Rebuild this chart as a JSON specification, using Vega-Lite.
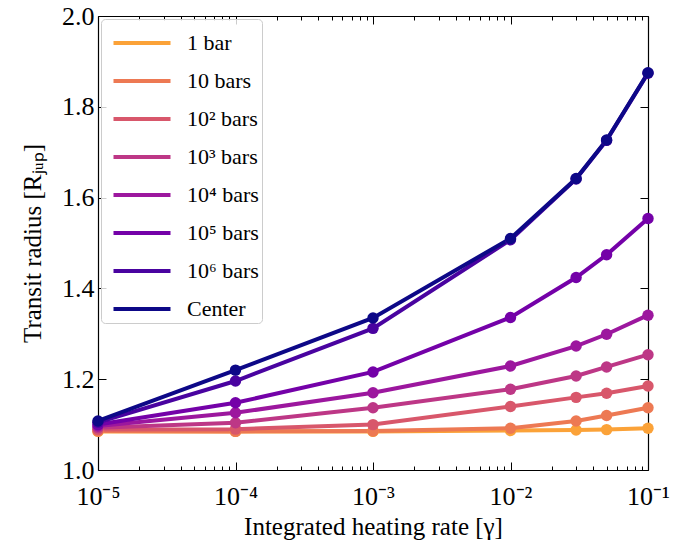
{
  "$schema": "https://vega.github.io/schema/vega-lite/v6.json",
  "width": 550,
  "height": 454,
  "autosize": {"type": "none"},
  "padding": {"left": 98, "top": 16, "right": 41, "bottom": 72},
  "config": {
    "view": {"stroke": null},
    "font": "Liberation Serif",
    "axis": {
      "domainColor": "black",
      "domainWidth": 1.2,
      "tickColor": "black",
      "tickWidth": 1,
      "grid": false,
      "labelFlush": false,
      "labelColor": "black",
      "titleColor": "black",
      "labelFont": "Liberation Serif",
      "titleFont": "Liberation Serif",
      "labelFontSize": 26,
      "titleFontSize": 25,
      "titleFontWeight": "normal"
    }
  },
  "datasets": {
    "d": [
      {"series": "1 bar", "x": 0.00001, "y": 1.085},
      {"series": "1 bar", "x": 0.0001, "y": 1.085},
      {"series": "1 bar", "x": 0.001, "y": 1.085},
      {"series": "1 bar", "x": 0.01, "y": 1.087},
      {"series": "1 bar", "x": 0.03, "y": 1.088},
      {"series": "1 bar", "x": 0.05, "y": 1.089},
      {"series": "1 bar", "x": 0.1, "y": 1.092},
      {"series": "10 bars", "x": 0.00001, "y": 1.086},
      {"series": "10 bars", "x": 0.0001, "y": 1.085},
      {"series": "10 bars", "x": 0.001, "y": 1.086},
      {"series": "10 bars", "x": 0.01, "y": 1.092},
      {"series": "10 bars", "x": 0.03, "y": 1.108},
      {"series": "10 bars", "x": 0.05, "y": 1.12},
      {"series": "10 bars", "x": 0.1, "y": 1.137},
      {"series": "10² bars", "x": 0.00001, "y": 1.089},
      {"series": "10² bars", "x": 0.0001, "y": 1.09},
      {"series": "10² bars", "x": 0.001, "y": 1.1},
      {"series": "10² bars", "x": 0.01, "y": 1.14},
      {"series": "10² bars", "x": 0.03, "y": 1.16},
      {"series": "10² bars", "x": 0.05, "y": 1.169},
      {"series": "10² bars", "x": 0.1, "y": 1.185},
      {"series": "10³ bars", "x": 0.00001, "y": 1.093},
      {"series": "10³ bars", "x": 0.0001, "y": 1.104},
      {"series": "10³ bars", "x": 0.001, "y": 1.137},
      {"series": "10³ bars", "x": 0.01, "y": 1.178},
      {"series": "10³ bars", "x": 0.03, "y": 1.207},
      {"series": "10³ bars", "x": 0.05, "y": 1.227},
      {"series": "10³ bars", "x": 0.1, "y": 1.254},
      {"series": "10⁴ bars", "x": 0.00001, "y": 1.097},
      {"series": "10⁴ bars", "x": 0.0001, "y": 1.126},
      {"series": "10⁴ bars", "x": 0.001, "y": 1.17},
      {"series": "10⁴ bars", "x": 0.01, "y": 1.229},
      {"series": "10⁴ bars", "x": 0.03, "y": 1.273},
      {"series": "10⁴ bars", "x": 0.05, "y": 1.299},
      {"series": "10⁴ bars", "x": 0.1, "y": 1.341},
      {"series": "10⁵ bars", "x": 0.00001, "y": 1.1},
      {"series": "10⁵ bars", "x": 0.0001, "y": 1.148},
      {"series": "10⁵ bars", "x": 0.001, "y": 1.216},
      {"series": "10⁵ bars", "x": 0.01, "y": 1.336},
      {"series": "10⁵ bars", "x": 0.03, "y": 1.424},
      {"series": "10⁵ bars", "x": 0.05, "y": 1.474},
      {"series": "10⁵ bars", "x": 0.1, "y": 1.554},
      {"series": "10⁶ bars", "x": 0.00001, "y": 1.105},
      {"series": "10⁶ bars", "x": 0.0001, "y": 1.196},
      {"series": "10⁶ bars", "x": 0.001, "y": 1.312},
      {"series": "10⁶ bars", "x": 0.01, "y": 1.507},
      {"series": "10⁶ bars", "x": 0.03, "y": 1.641},
      {"series": "10⁶ bars", "x": 0.05, "y": 1.726},
      {"series": "10⁶ bars", "x": 0.1, "y": 1.874},
      {"series": "Center", "x": 0.00001, "y": 1.108},
      {"series": "Center", "x": 0.0001, "y": 1.22},
      {"series": "Center", "x": 0.001, "y": 1.335},
      {"series": "Center", "x": 0.01, "y": 1.51},
      {"series": "Center", "x": 0.03, "y": 1.642},
      {"series": "Center", "x": 0.05, "y": 1.727},
      {"series": "Center", "x": 0.1, "y": 1.875}
    ]
  },
  "data": {"name": "d"},
  "layer": [
    {
      "mark": {"type": "point", "opacity": 0},
      "encoding": {
        "x": {"field": "x", "type": "quantitative", "scale": {"type": "log", "domain": [0.00001, 0.1], "nice": false, "padding": 0},
          "axis": {"orient": "top", "labels": false, "title": null, "values": [0.00001, 0.0001, 0.001, 0.01, 0.1], "tickSize": -8}},
        "y": {"field": "y", "type": "quantitative", "scale": {"domain": [1, 2], "zero": false, "nice": false, "padding": 0},
          "axis": {"orient": "right", "labels": false, "title": null, "values": [1, 1.2, 1.4, 1.6, 1.8, 2], "tickSize": -8}}
      }
    },
    {
      "mark": {"type": "point", "opacity": 0},
      "encoding": {
        "x": {"field": "x", "type": "quantitative",
          "axis": {"orient": "bottom", "labels": false, "title": null, "domain": false, "tickSize": -4,
            "values": [0.00002,0.00003,0.00004,0.00005,0.00006,0.00007,0.00008,0.00009,0.0002,0.0003,0.0004,0.0005,0.0006,0.0007,0.0008,0.0009,0.002,0.003,0.004,0.005,0.006,0.007,0.008,0.009,0.02,0.03,0.04,0.05,0.06,0.07,0.08,0.09]}},
        "y": {"field": "y", "type": "quantitative", "axis": null}
      }
    },
    {
      "mark": {"type": "point", "opacity": 0},
      "encoding": {
        "x": {"field": "x", "type": "quantitative",
          "axis": {"orient": "top", "labels": false, "title": null, "domain": false, "tickSize": -4,
            "values": [0.00002,0.00003,0.00004,0.00005,0.00006,0.00007,0.00008,0.00009,0.0002,0.0003,0.0004,0.0005,0.0006,0.0007,0.0008,0.0009,0.002,0.003,0.004,0.005,0.006,0.007,0.008,0.009,0.02,0.03,0.04,0.05,0.06,0.07,0.08,0.09]}},
        "y": {"field": "y", "type": "quantitative", "axis": null}
      }
    },
    {
      "mark": {"type": "line", "strokeWidth": 4, "point": {"filled": true, "size": 130, "opacity": 1}},
      "encoding": {
        "x": {"field": "x", "type": "quantitative",
          "axis": {"orient": "bottom", "title": "Integrated heating rate [γ]", "values": [0.00001, 0.0001, 0.001, 0.01, 0.1], "tickSize": -8, "labelPadding": 21, "titlePadding": 5,
            "labelExpr": "'10⁻' + ['','¹','²','³','⁴','⁵'][round(-log(datum.value)/LN10)]"}},
        "y": {"field": "y", "type": "quantitative",
          "axis": {"orient": "left", "title": "Transit radius [Rⱼᵤₚ]", "values": [1, 1.2, 1.4, 1.6, 1.8, 2], "format": ".1f", "tickSize": -8, "labelPadding": 12, "titlePadding": 16}},
        "color": {"field": "series", "type": "nominal",
          "scale": {"domain": ["1 bar", "10 bars", "10² bars", "10³ bars", "10⁴ bars", "10⁵ bars", "10⁶ bars", "Center"],
            "range": ["#fba238", "#ed7953", "#d8576b", "#bd3786", "#9c179e", "#7401a8", "#4903a0", "#0d0887"]},
          "legend": {"orient": "top-left", "offset": 3, "title": null, "symbolType": "M-1.5,0H1.5", "symbolSize": 1444, "symbolStrokeWidth": 4,
            "symbolOffset": 17, "labelOffset": 24, "labelFontSize": 22, "labelFont": "Liberation Serif", "labelColor": "black",
            "padding": 3, "rowPadding": 6, "strokeColor": "#cccccc", "fillColor": "rgba(255,255,255,0.8)", "cornerRadius": 4, "labelLimit": 300}}
      }
    }
  ],
  "resolve": {"axis": {"x": "independent", "y": "independent"}}
}
